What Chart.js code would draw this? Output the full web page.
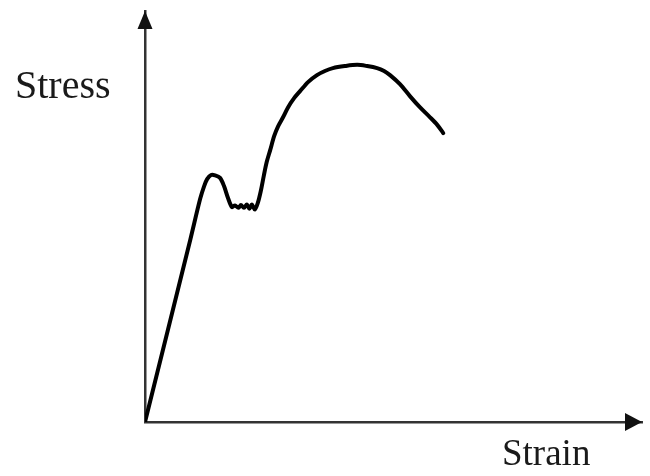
<!DOCTYPE html>
<html>
<head>
<meta charset="utf-8">
<script src="https://cdn.jsdelivr.net/npm/chart.js@4"></script>
<style>
  html, body { margin: 0; padding: 0; background: #ffffff; }
  #wrap { width: 650px; height: 476px; position: relative; }
</style>
</head>
<body>
<div id="wrap"><canvas id="c" width="650" height="476"></canvas></div>
<script>
// Strain (arbitrary units, axis 0..100)
const strain = [0, 9.1, 11.1, 11.9, 12.5, 13.3, 14.1, 15.1, 15.9, 16.7, 17.5, 18.1, 18.8, 19.3, 19.9, 20.5, 21.0, 21.5, 22.1, 22.7, 23.3, 23.9, 24.5, 25.2, 26.0, 26.8, 27.8, 28.8, 30.0, 31.2, 32.8, 34.6, 36.2, 37.8, 40.2, 42.7, 44.7, 46.7, 48.1, 49.3, 51.3, 53.3, 55.3, 57.3, 58.8, 60.0];
// Stress (arbitrary units, axis 0..100)
const stress = [0, 44.3, 54.3, 57.4, 59.1, 60.1, 60.0, 59.4, 57.4, 54.5, 52.3, 52.7, 52.1, 52.8, 52.1, 52.9, 51.9, 52.9, 51.7, 53.3, 56.2, 59.9, 63.3, 66.2, 69.6, 72.0, 74.2, 76.6, 78.8, 80.5, 82.7, 84.4, 85.4, 86.1, 86.6, 86.9, 86.6, 86.1, 85.4, 84.4, 82.2, 79.3, 76.6, 74.2, 72.3, 70.3];
const xLabel = "Strain";
const yLabel = "Stress";

const points = strain.map((x, i) => ({ x: x, y: stress[i] }));

const decor = {
  id: 'decor',
  afterDraw(chart) {
    const ctx = chart.ctx;
    const xs = chart.scales.x, ys = chart.scales.y;
    const ox = xs.getPixelForValue(0);
    const oy = ys.getPixelForValue(0);
    const topY = ys.getPixelForValue(100);
    const rightX = xs.getPixelForValue(100);
    ctx.save();
    ctx.fillStyle = '#111';
    // y arrow
    ctx.beginPath();
    ctx.moveTo(ox, topY);
    ctx.lineTo(ox - 7.5, topY + 18);
    ctx.lineTo(ox + 7.5, topY + 18);
    ctx.closePath();
    ctx.fill();
    // x arrow
    ctx.beginPath();
    ctx.moveTo(rightX, oy);
    ctx.lineTo(rightX - 17, oy - 9);
    ctx.lineTo(rightX - 17, oy + 9);
    ctx.closePath();
    ctx.fill();
    // labels
    ctx.fillStyle = '#1a1a1a';
    ctx.textBaseline = 'alphabetic';
    ctx.textAlign = 'left';
    ctx.font = '40px "Liberation Serif", "Times New Roman", serif';
    ctx.fillText(yLabel, 15, 98);
    ctx.font = '37px "Liberation Serif", "Times New Roman", serif';
    ctx.fillText(xLabel, 502, 465);
    ctx.restore();
  }
};

new Chart(document.getElementById('c'), {
  type: 'scatter',
  data: {
    datasets: [{
      data: points,
      showLine: true,
      borderColor: '#000',
      borderWidth: 4,
      pointRadius: 0,
      fill: false,
      tension: 0.3,
      borderJoinStyle: 'round',
      borderCapStyle: 'round'
    }]
  },
  options: {
    responsive: false,
    animation: false,
    layout: { padding: { left: 145, top: 11, right: 8, bottom: 54 } },
    plugins: { legend: { display: false }, tooltip: { enabled: false } },
    scales: {
      x: {
        type: 'linear', min: 0, max: 100,
        grid: { display: false },
        ticks: { display: false },
        border: { display: true, color: '#333', width: 2.5 },
        afterFit(s) { s.height = 0; }
      },
      y: {
        type: 'linear', min: 0, max: 100,
        grid: { display: false },
        ticks: { display: false },
        border: { display: true, color: '#333', width: 2.5 },
        afterFit(s) { s.width = 0; }
      }
    }
  },
  plugins: [decor]
});
</script>
</body>
</html>
